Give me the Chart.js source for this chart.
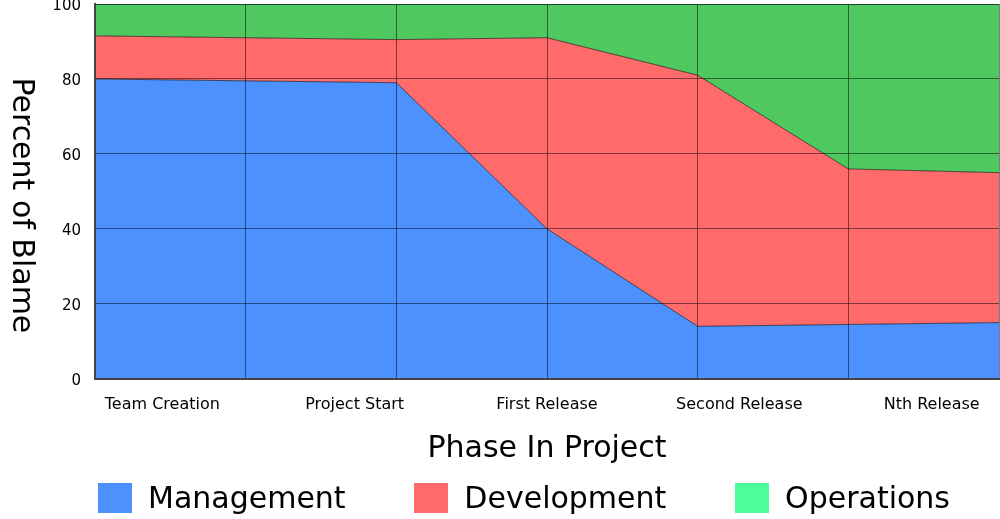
<!DOCTYPE html>
<html lang="en">
<head>
  <meta charset="UTF-8">
  <title>Percent of Blame</title>
  <script src="https://cdn.jsdelivr.net/npm/chart.js"></script>
  <style>
    html, body { margin: 0; padding: 0; background: #fff; }
    #wrap { position: relative; width: 1000px; height: 519px; font-family: "DejaVu Sans", sans-serif; }
    #legenda {
      position: absolute; left: 98px; width: 852px; top: 483px;
      display: flex; justify-content: space-between; align-items: center;
    }
    .item { display: flex; align-items: center; }
    .caixa { width: 34px; height: 30px; margin-right: 16px; }
    .texto { font-size: 30px; line-height: 30px; color: #000; }
  </style>
</head>
<body>
  <div id="wrap">
    <canvas id="chartBlame" width="1000" height="519"></canvas>
    <div id="legenda"></div>
  </div>

<script>
  // dados
  const etapas = [0, 1, 2, 3, 4, 5, 6];
  const fases = ['Team Creation', 'Project Start', 'First Release', 'Second Release', 'Nth Release'];
  const gestao = [80, 79.5, 79, 40, 14, 14.5, 15];
  const desenvolvimento = [11.5, 11.5, 11.5, 51, 67, 41.5, 40];
  const operacoes = [8.5, 9, 9.5, 9, 19, 44, 45];
  const ticksY = [0, 20, 40, 60, 80, 100];

  const nomes = ['Management', 'Development', 'Operations'];
  const corArea = ['#4d91ff', '#ff6b6b', '#50c860'];
  const corLegenda = ['#4d91ff', '#ff6b6b', '#4dff99'];

  const fonte = '"DejaVu Sans", sans-serif';

  // titulo do eixo Y, girado para ler de cima para baixo
  const tituloY = {
    id: 'tituloY',
    afterDraw(chart) {
      const ctx = chart.ctx;
      const area = chart.chartArea;
      ctx.save();
      ctx.translate(21, (area.top + area.bottom) / 2 + 14);
      ctx.rotate(Math.PI / 2);
      ctx.font = '30px ' + fonte;
      ctx.fillStyle = '#000';
      ctx.textAlign = 'center';
      ctx.textBaseline = 'middle';
      ctx.fillText('Percent of Blame', 0, 0);
      ctx.restore();
    }
  };

  const series = [gestao, desenvolvimento, operacoes];

  const grafico = new Chart(document.getElementById('chartBlame'), {
    type: 'line',
    data: {
      labels: etapas,
      datasets: series.map((s, i) => ({
        label: nomes[i],
        data: s,
        xAxisID: 'x',
        backgroundColor: corArea[i],
        borderColor: 'rgba(0,0,0,0.6)',
        borderWidth: 1,
        pointRadius: 0,
        tension: 0,
        fill: i === 0 ? 'origin' : '-1'
      }))
    },
    options: {
      responsive: false,
      animation: false,
      layout: { padding: { left: 52, right: 1, top: 4, bottom: 50 } },
      plugins: {
        legend: { display: false },
        tooltip: { enabled: false }
      },
      scales: {
        x: {
          type: 'category',
          offset: false,
          weight: 0,
          ticks: { display: false },
          grid: { color: 'rgba(0,0,0,0.5)', lineWidth: 1, drawTicks: false, z: 1 },
          border: { color: '#444', width: 2, z: 2 },
          afterFit: (s) => { s.paddingLeft = 0; s.paddingRight = 0; }
        },
        xl: {
          type: 'linear',
          position: 'bottom',
          weight: 1,
          min: -0.35,
          max: 4.35,
          afterBuildTicks: (eixo) => { eixo.ticks = fases.map((f, i) => ({ value: i })); },
          ticks: {
            padding: 8,
            maxRotation: 0,
            autoSkip: false,
            color: '#000',
            font: { family: fonte, size: 16 },
            callback: (v) => fases[v]
          },
          grid: { display: false },
          border: { display: false },
          title: {
            display: true,
            text: 'Phase In Project',
            color: '#000',
            font: { family: fonte, size: 30 },
            padding: { top: 9, bottom: 2 }
          },
          afterFit: (s) => { s.paddingLeft = 0; s.paddingRight = 0; }
        },
        y: {
          stacked: true,
          min: 0,
          max: 100,
          afterBuildTicks: (eixo) => { eixo.ticks = ticksY.map(v => ({ value: v })); },
          ticks: {
            padding: 14,
            labelOffset: 2,
            color: '#000',
            font: { family: fonte, size: 15 }
          },
          grid: { color: 'rgba(0,0,0,0.5)', lineWidth: 1, drawTicks: false, z: 1 },
          border: { color: '#444', width: 2, z: 2 },
          afterFit: (s) => { s.width = 43; s.paddingTop = 0; s.paddingBottom = 0; }
        }
      }
    },
    plugins: [tituloY]
  });

  // legenda em HTML
  const legenda = document.getElementById('legenda');
  nomes.forEach((n, i) => {
    const item = document.createElement('div');
    item.className = 'item';
    item.innerHTML = '<div class="caixa" style="background:' + corLegenda[i] + '"></div><span class="texto">' + n + '</span>';
    legenda.appendChild(item);
  });
</script>
</body>
</html>
